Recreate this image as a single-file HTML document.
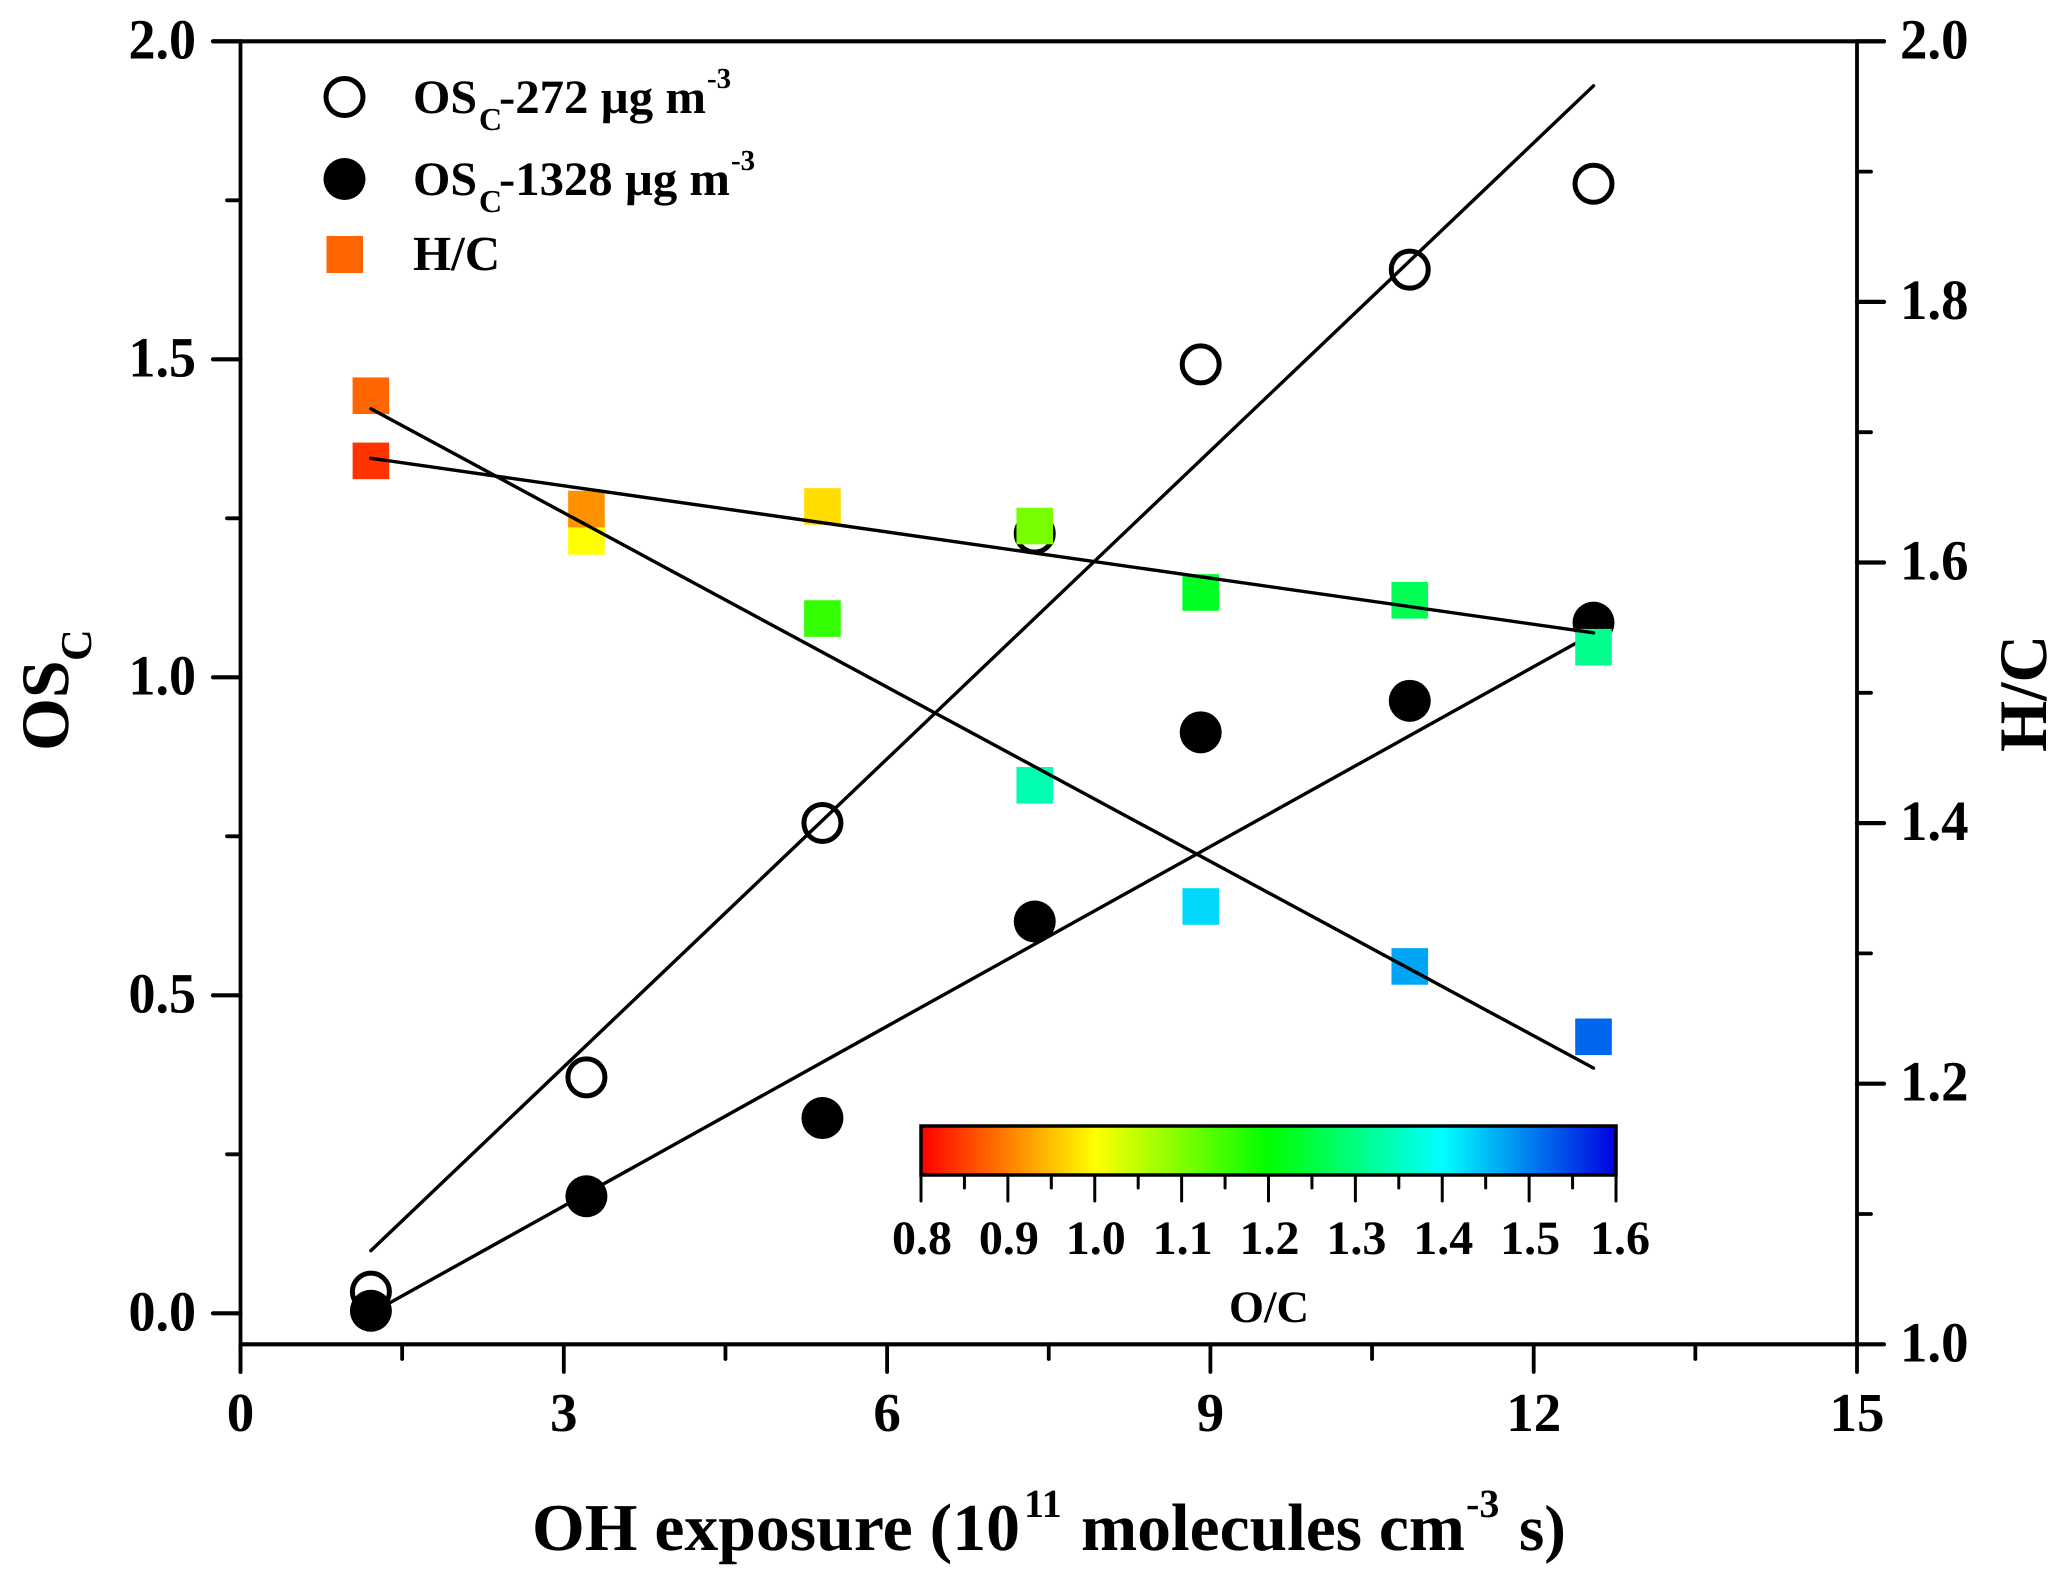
<!DOCTYPE html>
<html lang="en">
<head>
<meta charset="utf-8">
<title>OSc and H/C versus OH exposure</title>
<style>
html,body{margin:0;padding:0;background:#fff;}
svg{display:block;}
text{font-family:"Liberation Serif","Times New Roman",serif;font-weight:bold;fill:#000;text-rendering:geometricPrecision;}
</style>
</head>
<body>
<svg id="chart" xmlns="http://www.w3.org/2000/svg" width="2067" height="1585" viewBox="0 0 2067 1585">
  <rect x="0" y="0" width="2067" height="1585" fill="#fff"/>
  <defs>
    <linearGradient id="cbar-gradient" x1="0" y1="0" x2="1" y2="0"></linearGradient>
  </defs>
  <g id="axes-layer"></g>
  <g id="os-fit-layer"></g>
  <g id="circle-layer"></g>
  <g id="square-layer"></g>
  <g id="hc-fit-layer"></g>

  <g>
    <g>
      <circle cx="344.5" cy="97" r="18.5" fill="none" stroke="#000" stroke-width="5"/>
      <text x="413" y="113" font-size="48">OS</text>
      <text x="479" y="130" font-size="32">C</text>
      <text x="499" y="113" font-size="48" textLength="207" lengthAdjust="spacingAndGlyphs">-272 µg m</text>
      <text x="707" y="88" font-size="29">-3</text>
    </g>
    <g>
      <circle cx="344.5" cy="179" r="21" fill="#000"/>
      <text x="413" y="195" font-size="48">OS</text>
      <text x="479" y="212" font-size="32">C</text>
      <text x="499" y="195" font-size="48" textLength="231" lengthAdjust="spacingAndGlyphs">-1328 µg m</text>
      <text x="731" y="170" font-size="29">-3</text>
    </g>
    <g>
      <rect x="326.5" y="236" width="36.5" height="37" fill="#ff6600"/>
      <text x="413" y="270" font-size="49">H/C</text>
    </g>
  </g>

  <g>
    <text x="532" y="1550" font-size="67" textLength="488" lengthAdjust="spacingAndGlyphs">OH exposure (10</text>
    <text x="1024" y="1517" font-size="40">11</text>
    <text x="1081" y="1550" font-size="67" textLength="384" lengthAdjust="spacingAndGlyphs">molecules cm</text>
    <text x="1466" y="1517" font-size="40">-3</text>
    <text x="1519" y="1550" font-size="65">s)</text>
  </g>
  <g>
    <text transform="translate(68 751) rotate(-90)" font-size="68">OS</text>
    <text transform="translate(91 661) rotate(-90)" font-size="44">C</text>
  </g>
  <text transform="translate(2046 752) rotate(-90)" font-size="68" textLength="117" lengthAdjust="spacingAndGlyphs">H/C</text>

  <rect id="cbar-rect" x="921" y="1126" width="695" height="49" fill="url(#cbar-gradient)" stroke="#000" stroke-width="3.5"/>
  <text x="1269" y="1322" font-size="45" text-anchor="middle">O/C</text>
</svg>

<script>
// Data
const exposure = [1.21, 3.21, 5.40, 7.37, 8.91, 10.85, 12.555];
const osc272 = [0.034, 0.371, 0.771, 1.226, 1.492, 1.641, 1.776];
const osc1328 = [0.004, 0.184, 0.307, 0.616, 0.9135, 0.963, 1.086];
const hcSteep = [1.728, 1.620, 1.557, 1.429, 1.336, 1.290, 1.236];
const hcShallow = [1.678, 1.641, 1.643, 1.628, 1.577, 1.571, 1.535];
const ocSteep = [0.88, 1.00, 1.16, 1.34, 1.43, 1.47, 1.52];
const ocShallow = [0.84, 0.913, 0.973, 1.107, 1.227, 1.267, 1.31];

// Fit lines: [start, end]
const fitX = [1.21, 12.555];
const fit272 = [0.0985, 1.930];
const fit1328 = [0.0, 1.069];
const fitHcSteep = [1.718, 1.212];
const fitHcShallow = [1.680, 1.546];

// Tick labels
const xMajorTicks = [0, 3, 6, 9, 12, 15];
const xMinorTicks = [1.5, 4.5, 7.5, 10.5, 13.5];
const leftMajorTicks = ["0.0", "0.5", "1.0", "1.5", "2.0"];
const leftMinorTicks = [0.25, 0.75, 1.25, 1.75];
const rightMajorTicks = ["1.0", "1.2", "1.4", "1.6", "1.8", "2.0"];
const rightMinorTicks = [1.1, 1.3, 1.5, 1.7, 1.9];
const cbarMajorTicks = ["0.8", "0.9", "1.0", "1.1", "1.2", "1.3", "1.4", "1.5", "1.6"];
const cbarMinorTicks = [0.85, 0.95, 1.05, 1.15, 1.25, 1.35, 1.45, 1.55];
const cmapValues = [0.8, 1.0, 1.2, 1.4, 1.6];
const cmapColors = [[255, 0, 0], [255, 255, 0], [0, 255, 0], [0, 255, 255], [0, 0, 225]];

// Axis functions
const SVGNS = "http://www.w3.org/2000/svg";
const plot = { left: 240.5, right: 1857, top: 41.3, bottom: 1344.3 };
const sx = v => plot.left + (v - 0) / 15 * (plot.right - plot.left);
const syL = v => 1313.3 - v * 636;
const syR = v => plot.bottom - (v - 1) * (plot.bottom - plot.top);
const sc = v => 921 + (v - 0.8) / 0.8 * 695;

function make(tag, attrs, parent) {
  const node = document.createElementNS(SVGNS, tag);
  for (const k in attrs) node.setAttribute(k, attrs[k]);
  parent.appendChild(node);
  return node;
}
function cmap(v) {
  let i = 0;
  while (i < cmapValues.length - 2 && v > cmapValues[i + 1]) i++;
  const t = Math.max(0, Math.min(1, (v - cmapValues[i]) / (cmapValues[i + 1] - cmapValues[i])));
  const c = cmapColors[i].map((a, j) => Math.round(a + (cmapColors[i + 1][j] - a) * t));
  return "rgb(" + c.join(",") + ")";
}

const axes = document.getElementById("axes-layer");
const osFit = document.getElementById("os-fit-layer");
const circles = document.getElementById("circle-layer");
const squares = document.getElementById("square-layer");
const hcFit = document.getElementById("hc-fit-layer");
const LW = 3.8;

function axisLine(x1, y1, x2, y2, w) {
  const l = make("line", { x1: x1, y1: y1, x2: x2, y2: y2, stroke: "#000", "stroke-width": w, "stroke-linecap": "round" }, axes);
  
  
  return l;
}
function tickMark(x1, y1, x2, y2, w) {
  const l = make("line", { x1: x1, y1: y1, x2: x2, y2: y2, stroke: "#000", "stroke-width": w, "stroke-linecap": "round" }, axes);
  
  
  return l;
}
function tickLabel(x, y, s, size, anchor, len) {
  const t = make("text", { x: x, y: y, "font-size": size, "text-anchor": anchor }, axes);
  t.textContent = s;
  if (len) {
    t.setAttribute("textLength", len);
    t.setAttribute("lengthAdjust", "spacingAndGlyphs");
  }
  
  
  return t;
}

// Axis spines
axisLine(plot.left, plot.top, plot.left, 1372, LW);
axisLine(plot.left, plot.bottom, plot.right, plot.bottom, LW + 0.4);
axisLine(plot.right, plot.top, plot.right, plot.bottom, LW);

// X axis
xMajorTicks.forEach(v => {
  tickMark(sx(v), plot.bottom, sx(v), 1372, LW);
  tickLabel(sx(v), 1431, String(v), 55, "middle");
});
xMinorTicks.forEach(v => tickMark(sx(v), plot.bottom, sx(v), 1359, LW));

// Left axis
leftMajorTicks.forEach(s => {
  const y = syL(parseFloat(s));
  tickMark(plot.left, y, 213, y, LW + 0.4);
  tickLabel(196, y + 17, s, 57, "end", 67.5);
});
leftMinorTicks.forEach(v => tickMark(plot.left, syL(v), 227, syL(v), LW));

// Right axis
rightMajorTicks.forEach(s => {
  const y = syR(parseFloat(s));
  tickMark(plot.right, y, 1884, y, LW + 0.4);
  tickLabel(1900, y + 17, s, 57, "start", 68.5);
});
rightMinorTicks.forEach(v => tickMark(plot.right, syR(v), 1871, syR(v), LW));

// Top axis line, extended across to the end ticks
axisLine(213, plot.top, 1884, plot.top, LW + 0.4);

// Fit lines
function fitLine(layer, name, ys, yScale) {
  const l = make("line", { x1: sx(fitX[0]), y1: yScale(ys[0]), x2: sx(fitX[1]), y2: yScale(ys[1]), stroke: "#000", "stroke-width": 3.4, "stroke-linecap": "round" }, layer);
  
  
}
fitLine(osFit, "fit-line-osc-272", fit272, syL);
fitLine(osFit, "fit-line-osc-1328", fit1328, syL);
fitLine(hcFit, "fit-line-hc-steep", fitHcSteep, syR);
fitLine(hcFit, "fit-line-hc-shallow", fitHcShallow, syR);

// Points
exposure.forEach((x, i) => {
  const c = make("circle", { cx: sx(x), cy: syL(osc272[i]), r: 18.5, fill: "none", stroke: "#000", "stroke-width": 5 }, circles);
  
  
});
exposure.forEach((x, i) => {
  const c = make("circle", { cx: sx(x), cy: syL(osc1328[i]), r: 21, fill: "#000" }, circles);
  
  
});
const SQ = 36.6;
exposure.forEach((x, i) => {
  const r = make("rect", { x: sx(x) - SQ / 2, y: syR(hcSteep[i]) - SQ / 2, width: SQ, height: SQ, fill: cmap(ocSteep[i]) }, squares);
  
  
});
exposure.forEach((x, i) => {
  const r = make("rect", { x: sx(x) - SQ / 2, y: syR(hcShallow[i]) - SQ / 2, width: SQ, height: SQ, fill: cmap(ocShallow[i]) }, squares);
  
  
});

// Colour bar
const grad = document.getElementById("cbar-gradient");
cmapValues.forEach((v, i) => {
  make("stop", { offset: (v - 0.8) / 0.8, "stop-color": "rgb(" + cmapColors[i].join(",") + ")" }, grad);
});
cbarMajorTicks.forEach((s, i) => {
  const v = parseFloat(s);
  tickMark(sc(v), 1176, sc(v), 1201, 3);
  tickLabel(sc(v) + (i === cbarMajorTicks.length - 1 ? 4 : 1), 1254, s, 48, "middle");
});
cbarMinorTicks.forEach(v => tickMark(sc(v), 1176, sc(v), 1188, 3));
</script>
</body>
</html>
